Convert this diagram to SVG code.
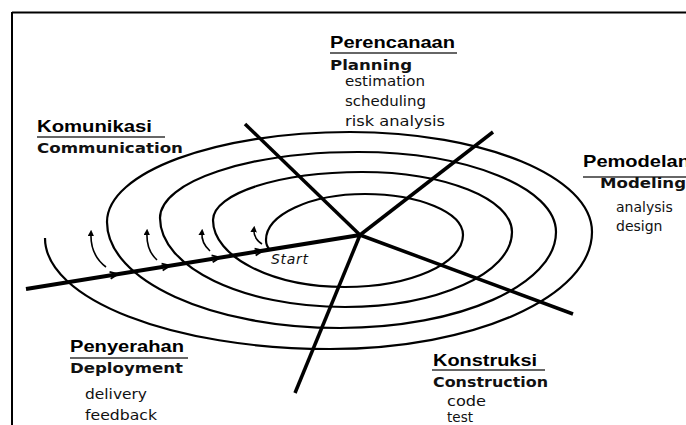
<svg xmlns="http://www.w3.org/2000/svg" width="686" height="425" viewBox="0 0 686 425">
<defs>
<style>
.h{font-family:"Liberation Sans",Arial,sans-serif;font-weight:bold;font-size:16.5px;fill:#000}
.s{font-family:"DejaVu Sans","Open Sans",sans-serif;font-weight:bold;font-size:14.5px;fill:#111}
.i{font-family:"DejaVu Sans","Open Sans",sans-serif;font-size:14px;fill:#111}
.u{stroke:#333;stroke-width:1.4}
.ring{fill:none;stroke:#000;stroke-width:2.2}
.axis{stroke:#000;stroke-width:3.5;stroke-linecap:butt}
.sm{fill:none;stroke:#000;stroke-width:1.6}
.chev{fill:none;stroke:#000;stroke-width:1.8}
</style>
<marker id="up" viewBox="0 0 10 10" refX="5" refY="5" markerWidth="6.5" markerHeight="6.5" markerUnits="userSpaceOnUse" orient="auto">
<path d="M0,0 L10,5 L0,10 Z" fill="#000"/>
</marker>
<path id="ch" d="M-8,-3.5 L0,0 L-8,3.5"/>
</defs>
<g id="frame">
<line x1="12" y1="12.5" x2="686" y2="12.5" stroke="#000" stroke-width="2"/>
<line x1="12" y1="12" x2="12" y2="425" stroke="#000" stroke-width="2"/>
</g>
<g id="connectors">
<path id="spiral" class="ring" d="M270,250 Q266,246 266,240 C266,214.6 310.3,194 365,194 C419.1,194 463,212.4 463,235 C463,263.7 410.2,287 345,287 C272.1,287 213,257 213,220 C213,193.5 279.7,172 362,172 C444.8,172 512,198.9 512,232 C512,273.4 437.2,307 345,307 C242.8,307 160,267.2 160,218 C160,181.5 248.6,152 358,152 C467.4,152 556,187.8 556,232 C556,285 459.3,328 340,328 C211.3,328 107,280.5 107,222 C107,172.3 215.8,132 350,132 C483.7,132 592,176.8 592,232 C592,296.6 474.7,349 330,349 C172.6,349 45,299.3 45,238"/>
<line class="axis" x1="360" y1="235" x2="245" y2="124"/>
<line class="axis" x1="360" y1="235" x2="493" y2="132"/>
<line class="axis" x1="360" y1="235" x2="573" y2="314"/>
<line class="axis" x1="360" y1="235" x2="295" y2="393"/>
<line x1="26" y1="289" x2="360" y2="235" stroke="#000" stroke-width="4"/>
<g class="chev">
<use href="#ch" transform="translate(118,274.1) rotate(-9.2)"/>
<use href="#ch" transform="translate(170,265.7) rotate(-9.2)"/>
<use href="#ch" transform="translate(220,257.6) rotate(-9.2)"/>
<use href="#ch" transform="translate(263,250.7) rotate(-9.2)"/>
</g>
<path class="sm" d="M106,267 Q90,255 91,233" marker-end="url(#up)"/>
<path class="sm" d="M157,260 Q146,250 147,232" marker-end="url(#up)"/>
<path class="sm" d="M210,251 Q201,243 202,232" marker-end="url(#up)"/>
<path class="sm" d="M262,244 Q253,238 254,229" marker-end="url(#up)"/>
</g>
<text x="271" y="264" font-family="DejaVu Sans,sans-serif" font-style="italic" font-size="14" textLength="37" fill="#111">Start</text>
<g id="planning">
<text class="h" x="330" y="48" textLength="125" lengthAdjust="spacingAndGlyphs">Perencanaan</text>
<line class="u" x1="330" y1="53" x2="457" y2="53"/>
<text class="s" x="330" y="70" textLength="82" lengthAdjust="spacingAndGlyphs">Planning</text>
<text class="i" x="345" y="86" textLength="80" lengthAdjust="spacingAndGlyphs">estimation</text>
<text class="i" x="345" y="106" textLength="81" lengthAdjust="spacingAndGlyphs">scheduling</text>
<text class="i" x="345" y="126" textLength="100" lengthAdjust="spacingAndGlyphs">risk analysis</text>
</g>
<g id="communication">
<text class="h" x="37" y="132" textLength="115" lengthAdjust="spacingAndGlyphs">Komunikasi</text>
<line class="u" x1="37" y1="137" x2="165" y2="137"/>
<text class="s" x="37" y="153" textLength="146" lengthAdjust="spacingAndGlyphs">Communication</text>
</g>
<g id="modeling">
<text class="h" x="583" y="167" textLength="107" lengthAdjust="spacingAndGlyphs">Pemodelan</text>
<line class="u" x1="583" y1="177" x2="686" y2="177"/>
<text class="s" x="600" y="188" textLength="86" lengthAdjust="spacingAndGlyphs">Modeling</text>
<text class="i" x="616" y="212">analysis</text>
<text class="i" x="616" y="231">design</text>
</g>
<g id="deployment">
<text class="h" x="70" y="352" textLength="114" lengthAdjust="spacingAndGlyphs">Penyerahan</text>
<line class="u" x1="70" y1="358" x2="188" y2="358"/>
<text class="s" x="70" y="373" textLength="113" lengthAdjust="spacingAndGlyphs">Deployment</text>
<text class="i" x="85" y="399" textLength="62" lengthAdjust="spacingAndGlyphs">delivery</text>
<text class="i" x="85" y="420" textLength="72" lengthAdjust="spacingAndGlyphs">feedback</text>
</g>
<g id="construction">
<text class="h" x="433" y="366" textLength="104" lengthAdjust="spacingAndGlyphs">Konstruksi</text>
<line class="u" x1="432" y1="370" x2="545" y2="370"/>
<text class="s" x="433" y="387" textLength="115" lengthAdjust="spacingAndGlyphs">Construction</text>
<text class="i" x="447" y="406" textLength="39" lengthAdjust="spacingAndGlyphs">code</text>
<text class="i" x="447" y="422" textLength="26" lengthAdjust="spacingAndGlyphs">test</text>
</g>
</svg>
